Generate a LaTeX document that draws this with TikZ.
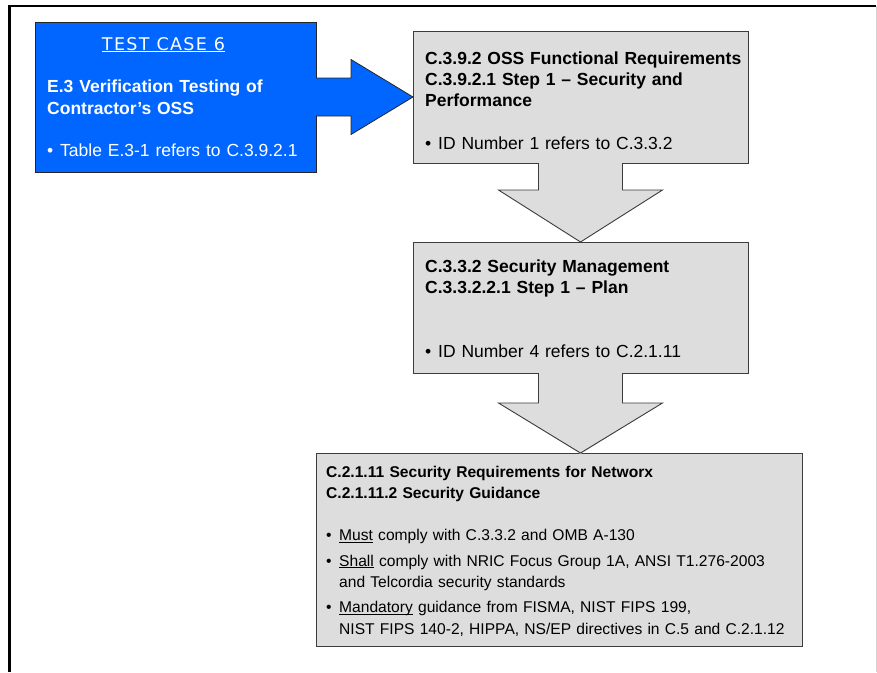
\documentclass[tikz,border=0pt]{standalone}
\usepackage{fontspec}
\setmainfont{Liberation Sans}
\newfontfamily\casefont[LetterSpace=7.8]{DejaVu Sans}
\usetikzlibrary{positioning}
\definecolor{caseblue}{RGB}{0,102,255}
\definecolor{boxgray}{RGB}{221,221,221}
\definecolor{edgegray}{RGB}{60,60,60}
\newcommand{\bul}{\makebox[13pt][l]{\textbullet}}
\newcommand{\ind}{\hspace*{13pt}}
\newcommand{\ulword}[1]{\underline{\smash{#1}}}
\tikzset{
  casebox/.style={draw=black!85, fill=caseblue, line width=0.8pt, inner sep=0pt, outer sep=0pt, anchor=north west},
  reqbox/.style={draw=edgegray, fill=boxgray, line width=0.9pt, inner sep=0pt, outer sep=0pt, anchor=north west},
  boxtext/.style={anchor=base west, inner sep=0pt, text width=560pt, align=left, font=\fontsize{17.5}{21.3}\selectfont},
  smalltext/.style={boxtext, font=\fontsize{15.6}{21.3}\selectfont},
}

\begin{document}
\begin{tikzpicture}[x=1pt,y=-1pt]

  \useasboundingbox (0,0) rectangle (877,672);

  % page frame
  \draw[line width=2.7pt] (876,6) -- (9.7,6) -- (9.7,672);
  \draw[black!18, line width=1pt] (876.5,6) -- (876.5,672);

  % boxes
  \node[casebox, minimum width=281pt, minimum height=150pt] (tc) at (35,22) {};
  \node[reqbox, minimum width=335pt, minimum height=132pt] (req) at (413,31) {};
  \node[reqbox, minimum width=335pt, minimum height=131pt] (mgmt) at (413,242) {};
  \node[reqbox, minimum width=486pt, minimum height=193pt] (net) at (316,453) {};

  % blue arrow: test case -> requirement
  \fill[caseblue] ([xshift=-1pt,yshift=19pt]tc.east) -- ([xshift=-62pt,yshift=19pt]req.west) -- ([xshift=-62pt,yshift=37.5pt]req.west) -- (req.west)
    -- ([xshift=-62pt,yshift=-37.5pt]req.west) -- ([xshift=-62pt,yshift=-19pt]req.west) -- ([xshift=-1pt,yshift=-19pt]tc.east) -- cycle;
  \draw[black!85, line width=0.8pt] ([yshift=19pt]tc.east) -- ([xshift=-62pt,yshift=19pt]req.west) -- ([xshift=-62pt,yshift=37.5pt]req.west) -- (req.west)
    -- ([xshift=-62pt,yshift=-37.5pt]req.west) -- ([xshift=-62pt,yshift=-19pt]req.west) -- ([yshift=-19pt]tc.east);

  % gray arrow: requirement -> management
  \fill[boxgray] ([xshift=-42pt,yshift=1pt]req.south) -- ([xshift=-42pt,yshift=52pt]mgmt.north) -- ([xshift=-82pt,yshift=52pt]mgmt.north) -- (mgmt.north)
    -- ([xshift=82pt,yshift=52pt]mgmt.north) -- ([xshift=42pt,yshift=52pt]mgmt.north) -- ([xshift=42pt,yshift=1pt]req.south) -- cycle;
  \draw[edgegray, line width=0.9pt] ([xshift=-42pt]req.south) -- ([xshift=-42pt,yshift=52pt]mgmt.north) -- ([xshift=-82pt,yshift=52pt]mgmt.north) -- (mgmt.north)
    -- ([xshift=82pt,yshift=52pt]mgmt.north) -- ([xshift=42pt,yshift=52pt]mgmt.north) -- ([xshift=42pt]req.south);

  % gray arrow: management -> networx
  \coordinate (tip) at (mgmt.south |- net.north);
  \fill[boxgray] ([xshift=-42pt,yshift=1pt]mgmt.south) -- ([xshift=-42pt,yshift=50pt]tip) -- ([xshift=-82pt,yshift=50pt]tip) -- ([yshift=-1pt]tip)
    -- ([xshift=82pt,yshift=50pt]tip) -- ([xshift=42pt,yshift=50pt]tip) -- ([xshift=42pt,yshift=1pt]mgmt.south) -- cycle;
  \draw[edgegray, line width=0.9pt] ([xshift=-42pt]mgmt.south) -- ([xshift=-42pt,yshift=50pt]tip) -- ([xshift=-82pt,yshift=50pt]tip) -- (tip)
    -- ([xshift=82pt,yshift=50pt]tip) -- ([xshift=42pt,yshift=50pt]tip) -- ([xshift=42pt]mgmt.south);

  % texts
  \node[anchor=base, inner sep=0pt, text=white, font=\casefont\fontsize{17.5}{21}\selectfont] (title) at (163.5,50) {\underline{TEST CASE 6}};
  \node[boxtext, text=white] (tctext) at (47,92.7) {\textbf{E.3 Verification Testing of}\\\textbf{Contractor’s OSS}\\[21.3pt]\bul Table E.3-1 refers to C.3.9.2.1};
  \node[boxtext] (reqtext) at (425,64.3) {\textbf{C.3.9.2 OSS Functional Requirements}\\\textbf{C.3.9.2.1 Step 1 – Security and}\\\textbf{Performance}\\[21.3pt]\bul ID Number 1 refers to C.3.3.2};
  \node[boxtext] (mgmttext) at (425,272.3) {\textbf{C.3.3.2 Security Management}\\\textbf{C.3.3.2.2.1 Step 1 – Plan}\\[42.6pt]\bul ID Number 4 refers to C.2.1.11};
  \node[smalltext] (nettext) at (326,477) {\textbf{C.2.1.11 Security Requirements for Networx}\\\textbf{C.2.1.11.2 Security Guidance}\\[21.3pt]%
    \bul\ulword{Must} comply with C.3.3.2 and OMB A-130\\[4pt]%
    \bul\ulword{Shall} comply with NRIC Focus Group 1A, ANSI T1.276-2003\\\ind and Telcordia security standards\\[4pt]%
    \bul\ulword{Mandatory} guidance from FISMA, NIST FIPS 199,\\\ind NIST FIPS 140-2, HIPPA, NS/EP directives in C.5 and C.2.1.12};

\end{tikzpicture}
\end{document}
